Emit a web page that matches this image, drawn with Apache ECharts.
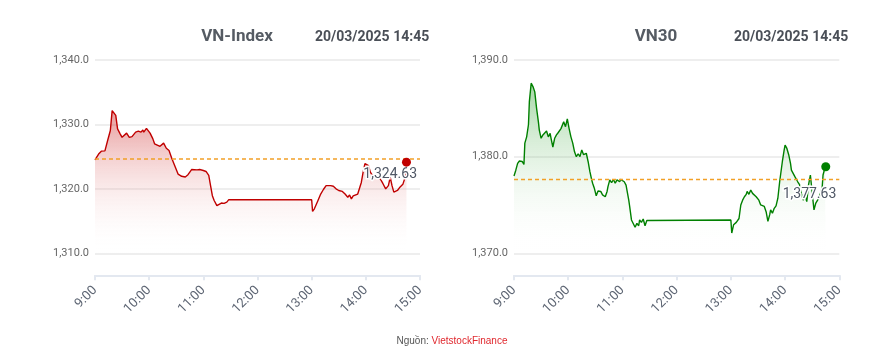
<!DOCTYPE html>
<html>
<head>
<meta charset="utf-8">
<script src="https://cdn.jsdelivr.net/npm/echarts@6/dist/echarts.min.js"></script>
<style>
html,body{margin:0;padding:0;background:#fff;}
#chart{width:880px;height:363px;}
</style>
</head>
<body>
<div id="chart"></div>
<script>
// ---- Data (minutes after 9:00, index values) ----
const vnMinutes = [0,1,4,7,11,14,17,19,21,23,25,28,30,31,35,38,41,43,45,48,51,53,54,57,59,61,64,66,68,72,74,76,79,82,85,89,92,96,100,103,107,109,113,116,120,123,124,126,128,130,132,134,135,137,140,143,146,148,150,240,241,243,245,247,250,253,256,258,261,264,267,270,272,274,277,280,282,284,286,288,291,293,295,297,299,301,303,305,308,312,316,319,322,325,327,328,329,331,333,335,338,341,342,343,345];
const vnValues = [1324.5,1324.6,1325.4,1325.85,1325.9,1327.5,1329.05,1332.15,1332.0,1331.4,1329.3,1328.5,1328.0,1328.15,1328.65,1328.0,1328.1,1327.85,1328.8,1328.95,1328.8,1329.15,1328.8,1329.4,1329.2,1328.65,1327.8,1327.0,1326.7,1326.6,1326.7,1327.1,1326.3,1325.95,1324.75,1323.35,1322.3,1321.95,1321.85,1322.2,1323.0,1323.15,1322.95,1323.0,1322.85,1322.7,1322.85,1322.1,1320.5,1318.95,1318.2,1318.35,1317.4,1317.7,1317.8,1317.75,1317.95,1318.3,1318.3,1318.3,1316.5,1316.9,1317.15,1318.2,1319.2,1319.9,1320.5,1320.7,1320.5,1320.4,1320.0,1319.75,1319.5,1319.6,1319.2,1318.7,1319.05,1318.45,1318.9,1318.6,1319.2,1319.5,1321.0,1322.6,1323.9,1324.15,1323.6,1322.6,1321.95,1321.8,1321.55,1320.8,1320.0,1320.5,1321.8,1322.1,1320.5,1319.5,1319.2,1319.75,1320.3,1320.7,1320.8,1321.55,1324.15];
const vnRef = 1324.63;

const vn30Minutes = [0,2,4,6,9,11,12,14,16,17,19,21,23,25,27,28,30,32,34,36,38,40,41,43,45,47,49,51,52,54,55,57,59,61,63,65,67,69,71,73,75,77,80,82,84,86,87,89,91,93,96,98,101,103,104,106,108,110,112,114,117,118,120,122,124,127,128,130,132,134,136,138,139,141,143,145,147,149,240,241,243,245,246,249,251,253,255,257,258,260,262,264,266,268,271,273,275,277,279,281,283,284,286,288,290,292,294,296,297,299,300,302,304,306,307,309,311,312,314,316,318,320,322,324,326,328,329,331,332,334,336,338,341,342,344,345];
const vn30Values = [1378.0,1378.6,1379.3,1379.55,1379.5,1379.2,1381.4,1382.05,1383.3,1385.7,1387.6,1387.25,1386.7,1385.0,1383.6,1382.75,1381.9,1382.25,1382.05,1382.65,1382.05,1382.4,1381.9,1381.0,1381.9,1382.25,1382.5,1382.3,1382.9,1383.1,1383.6,1383.1,1383.9,1382.9,1382.05,1381.4,1380.5,1380.0,1380.3,1380.0,1380.7,1380.2,1380.35,1379.5,1378.45,1377.6,1377.25,1376.7,1375.95,1376.45,1376.4,1376.05,1375.85,1376.4,1376.9,1377.6,1377.3,1377.65,1377.25,1377.6,1377.4,1377.65,1377.85,1377.4,1377.05,1375.5,1374.85,1373.45,1373.3,1372.7,1373.1,1372.85,1373.45,1373.2,1373.55,1372.85,1373.4,1373.45,1373.45,1372.1,1372.95,1372.75,1373.2,1373.6,1375.0,1375.5,1375.85,1376.1,1376.4,1376.1,1376.55,1376.2,1376.3,1375.85,1375.5,1375.0,1375.2,1374.85,1374.3,1373.3,1374.0,1374.5,1374.15,1374.65,1374.9,1375.7,1377.4,1378.8,1379.5,1380.7,1381.2,1380.85,1380.2,1379.3,1378.6,1378.45,1377.9,1378.1,1377.4,1377.1,1376.2,1375.5,1376.0,1375.35,1377.1,1378.1,1378.15,1375.35,1374.5,1375.2,1375.5,1375.85,1376.75,1378.1,1378.8,1378.95];
const vn30Ref = 1377.63;

const xTickHours = ['9:00','10:00','11:00','12:00','13:00','14:00','15:00'];
const titles = ['VN-Index','VN30'];
const stamp = '20/03/2025 14:45';

// ---- Build ----
const START = 540, END = 900; // 9:00 and 15:00 in minutes
function pairs(mins, vals){ return mins.map((m,i)=>[START+m, vals[i]]); }
function fmtNum(v){ return v.toLocaleString('en-US',{minimumFractionDigits:1,maximumFractionDigits:1}); }
function fmtRef(v){ return v.toLocaleString('en-US',{minimumFractionDigits:2,maximumFractionDigits:2}); }

const FONT = 'Roboto, "Liberation Sans", Arial, sans-serif';
const AXIS_COLOR = '#E3E8F0';
const REF_COLOR = '#F2A027';

function xAxisCfg(gi){
  return {
    type:'value', gridIndex:gi, min:START, max:END, interval:60, offset:22,
    axisLine:{show:true, lineStyle:{color:AXIS_COLOR, width:2}},
    axisTick:{show:true, length:5, lineStyle:{color:AXIS_COLOR, width:2}},
    splitLine:{show:false},
    axisLabel:{rotate:45, fontSize:13, color:'#5C6472', fontFamily:FONT, margin:13,
      formatter:(v)=> xTickHours[Math.round((v-START)/60)] }
  };
}
function yAxisCfg(gi, min, max){
  return {
    type:'value', gridIndex:gi, min:min, max:max, interval:10,
    axisLine:{show:false}, axisTick:{show:false},
    splitLine:{show:true, lineStyle:{color:'#E8E8E8', width:1.5}},
    axisLabel:{fontSize:11, color:'#666', fontFamily:FONT, margin:6, formatter:fmtNum}
  };
}
function lineSeries(gi, data, color, c0){
  return {
    type:'line', xAxisIndex:gi, yAxisIndex:gi, data:data, showSymbol:false, symbol:'none',
    lineStyle:{color:color, width:1.4}, silent:true, animation:false, z:3,
    areaStyle:{color:new echarts.graphic.LinearGradient(0,0,0,1,[
      {offset:0,color:c0},{offset:1,color:'rgba(255,255,255,0)'}])}
  };
}
function refSeries(gi, ref){
  return {
    type:'line', xAxisIndex:gi, yAxisIndex:gi, silent:true, animation:false, z:4,
    symbol:'circle', symbolSize:0, showSymbol:true, showAllSymbol:true,
    itemStyle:{color:'rgba(0,0,0,0)'},
    lineStyle:{color:REF_COLOR, type:[4,3], width:1.5, opacity:1},
    data:[[START, ref], {value:[END, ref],
      label:{show:true, position:'bottom', align:'right', offset:[-3,3], formatter:()=>fmtRef(ref),
        fontSize:14, color:'#505866', fontFamily:FONT, textBorderColor:'#fff', textBorderWidth:3}}]
  };
}
function dotSeries(gi, data, color){
  return {type:'scatter', xAxisIndex:gi, yAxisIndex:gi, data:[data[data.length-1]],
    symbolSize:9, itemStyle:{color:color, opacity:1}, silent:true, animation:false, z:5};
}

const vnData = pairs(vnMinutes, vnValues);
const vn30Data = pairs(vn30Minutes, vn30Values);

const option = {
  animation:false,
  grid:[
    {left:95, top:60, width:325, height:193.3},
    {left:514, top:60, width:325.3, height:193.3}
  ],
  xAxis:[xAxisCfg(0), xAxisCfg(1)],
  yAxis:[yAxisCfg(0,1310,1340), yAxisCfg(1,1370,1390)],
  series:[
    lineSeries(0, vnData, '#C00000', 'rgba(200,20,20,0.62)'),
    refSeries(0, vnRef),
    dotSeries(0, vnData, '#C00000'),
    lineSeries(1, vn30Data, '#008000', 'rgba(0,140,0,0.5)'),
    refSeries(1, vn30Ref),
    dotSeries(1, vn30Data, '#008000')
  ],
  graphic:[
    {type:'text', x:237, y:37, style:{text:titles[0], fill:'#555B63', font:'bold 17px '+FONT, textAlign:'center', textVerticalAlign:'middle'}},
    {type:'text', x:315, y:37, style:{text:stamp, fill:'#4A4F57', font:'bold 14px '+FONT, textAlign:'left', textVerticalAlign:'middle'}},
    {type:'text', x:656, y:37, style:{text:titles[1], fill:'#555B63', font:'bold 17px '+FONT, textAlign:'center', textVerticalAlign:'middle'}},
    {type:'text', x:734, y:37, style:{text:stamp, fill:'#4A4F57', font:'bold 14px '+FONT, textAlign:'left', textVerticalAlign:'middle'}},
    {type:'text', x:452, y:341, style:{text:'{a|Nguồn: }{b|VietstockFinance}', textAlign:'center', textVerticalAlign:'middle',
      rich:{a:{fontSize:10, fill:'#555', fontFamily:'"Liberation Sans", Arial, sans-serif'},
            b:{fontSize:10, fill:'#E0282E', fontFamily:'"Liberation Sans", Arial, sans-serif'}}}}
  ]
};
const chart = echarts.init(document.getElementById('chart'), null, {renderer:'canvas'});
chart.setOption(option);
</script>
</body>
</html>
